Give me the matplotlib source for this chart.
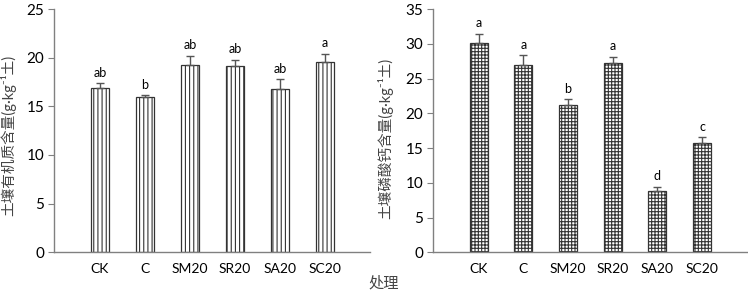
import numpy as np
import matplotlib
matplotlib.use("Agg")
import matplotlib.pyplot as plt

plt.rcParams['font.family'] = ['Lato', 'Noto Sans CJK SC', 'DejaVu Sans']
plt.rcParams['hatch.linewidth'] = 0.8

# data
treatments = ["CK", "C", "SM20", "SR20", "SA20", "SC20"]

som_mean = [16.85, 16.0, 19.3, 19.1, 16.75, 19.55]
som_err = [0.5, 0.15, 0.9, 0.7, 1.05, 0.85]
som_letters = ["ab", "b", "ab", "ab", "ab", "a"]

cap_mean = [30.15, 26.95, 21.2, 27.3, 8.87, 15.77]
cap_err = [1.3, 1.45, 0.8, 0.85, 0.55, 0.8]
cap_letters = ["a", "a", "b", "a", "d", "c"]

fig = plt.figure(figsize=(7.48, 2.92), dpi=100)
ax1 = fig.add_axes([0.0722, 0.136, 0.4225, 0.833])
ax2 = fig.add_axes([0.5789, 0.136, 0.4195, 0.833])

x = np.arange(len(treatments))
spine_col = "#808080"
cjk = ['Noto Sans CJK SC', 'DejaVu Sans']
mixed = ['Lato', 'Noto Sans CJK SC', 'DejaVu Sans']


def draw(ax, means, errs, letters, hatch, ymax, ylabel, lx, ly):
    ax.bar(x, means, width=0.4, color="white", edgecolor="#333333",
           linewidth=0.9, hatch=hatch, zorder=2)
    ax.errorbar(x, means, yerr=[np.zeros(len(errs)), errs], fmt="none",
                ecolor="#555555", elinewidth=1.0, capsize=3, capthick=1.0,
                zorder=3)
    for xi, m, e, t in zip(x, means, errs, letters):
        ax.text(xi, m + e + ymax * 0.018, t, ha="center", va="bottom",
                fontsize=9)
    ax.set_xlim(-1.02, 6.0)
    ax.set_ylim(0, ymax)
    ax.set_yticks(np.arange(0, ymax + 1, 5))
    ax.set_xticks(x)
    ax.set_xticklabels(treatments, fontsize=10)
    ax.tick_params(axis="x", length=0, pad=8)
    ax.tick_params(axis="y", labelsize=11, length=4, color=spine_col,
                   direction="out", pad=3)
    for s in ["top", "right"]:
        ax.spines[s].set_visible(False)
    for s in ["left", "bottom"]:
        ax.spines[s].set_color(spine_col)
        ax.spines[s].set_linewidth(1.0)
    ax.set_ylabel(ylabel, fontsize=10.5, color="#444444", family=mixed)
    ax.yaxis.set_label_coords(lx, ly)


draw(ax1, som_mean, som_err, som_letters, "||||", 25,
     "土壤有机质含量(g·kg⁻¹土)", -0.12, 0.48)
draw(ax2, cap_mean, cap_err, cap_letters, "+++++", 35,
     "土壤磷酸钙含量(g·kg⁻¹土)", -0.127, 0.47)

fig.text(0.513, 0.03, "处理", ha="center", va="center", fontsize=11,
         color="#444444", family=cjk)

fig.savefig("out.png", dpi=100)
